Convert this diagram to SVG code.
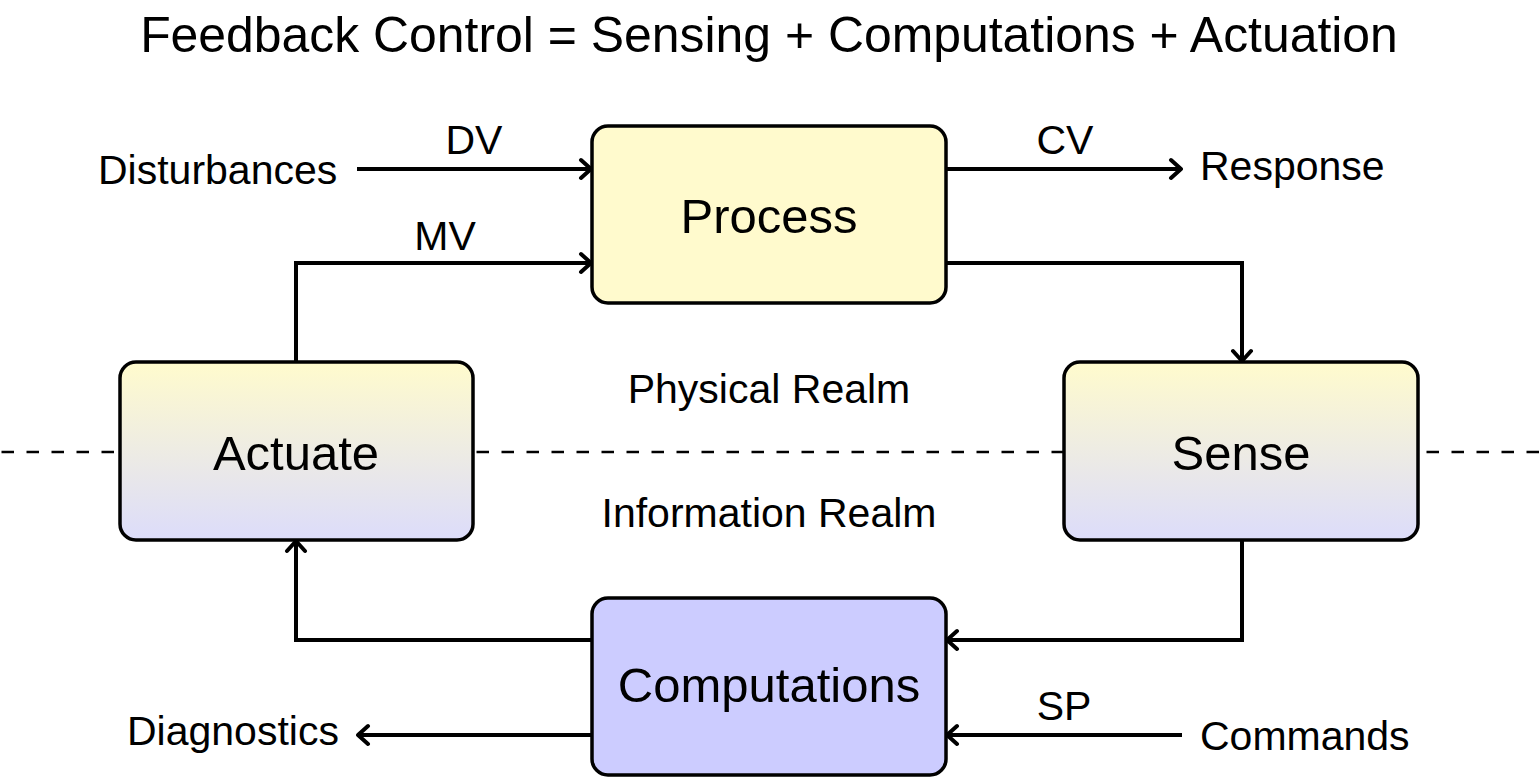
<svg xmlns="http://www.w3.org/2000/svg" width="1539" height="778" viewBox="0 0 1539 778">
<defs>
<linearGradient id="g" x1="0" y1="0" x2="0" y2="1">
<stop offset="0" stop-color="#fffbcd"/>
<stop offset="1" stop-color="#dcdcfa"/>
</linearGradient>
<marker id="arr" markerUnits="userSpaceOnUse" viewBox="-14 -12 16 24" markerWidth="16" markerHeight="24" refX="0" refY="0" orient="auto">
<path d="M -10 -9 L 0 0 L -10 9" fill="none" stroke="#000" stroke-width="4" stroke-linecap="round" stroke-linejoin="round"/>
</marker>
<style>
.box{stroke:#000;stroke-width:3.5}
.big{font-family:"Liberation Sans",Arial,sans-serif;font-size:49px;fill:#000}
.title{font-size:49.9px}
.sm{font-family:"Liberation Sans",Arial,sans-serif;font-size:41px;fill:#000}
.c{text-anchor:middle}
.ln{fill:none;stroke:#000;stroke-width:4;marker-end:url(#arr)}
</style>
</defs>
<rect width="1539" height="778" fill="#fff"/>
<text class="big title c" x="769" y="52">Feedback Control = Sensing + Computations + Actuation</text>
<line x1="0" y1="452" x2="1539" y2="452" stroke="#000" stroke-width="2.5" stroke-dasharray="12.5 12.5" stroke-dashoffset="-1.5"/>
<g id="connectors">
<path class="ln" d="M357 169 H591"/>
<path class="ln" d="M946 169 H1181"/>
<path class="ln" d="M296 362 V263 H591"/>
<path class="ln" d="M946 263 H1242 V361"/>
<path class="ln" d="M1242 540 V640 H947"/>
<path class="ln" d="M592 640 H296 V541"/>
<path class="ln" d="M1182 735 H947"/>
<path class="ln" d="M592 735 H358"/>
</g>
<g id="process">
<rect class="box" x="592" y="126" width="354" height="177" rx="16" fill="#fffacd"/>
<text class="big c" x="769" y="233">Process</text>
</g>
<g id="actuate">
<rect class="box" x="120" y="362" width="353" height="178" rx="16" fill="url(#g)"/>
<text class="big c" x="296" y="470">Actuate</text>
</g>
<g id="sense">
<rect class="box" x="1064" y="362" width="354" height="178" rx="16" fill="url(#g)"/>
<text class="big c" x="1241" y="470">Sense</text>
</g>
<g id="computations">
<rect class="box" x="592" y="598" width="354" height="177" rx="16" fill="#ccccff"/>
<text class="big c" x="769" y="702">Computations</text>
</g>
<g id="labels">
<text class="sm" x="98" y="184">Disturbances</text>
<text class="sm c" x="474" y="154">DV</text>
<text class="sm c" x="1065" y="154">CV</text>
<text class="sm" x="1200" y="180">Response</text>
<text class="sm c" x="445" y="250">MV</text>
<text class="sm c" x="769" y="403">Physical Realm</text>
<text class="sm c" x="769" y="527">Information Realm</text>
<text class="sm c" x="1064" y="720">SP</text>
<text class="sm" x="127" y="745">Diagnostics</text>
<text class="sm" x="1200" y="750">Commands</text>
</g>
</svg>
